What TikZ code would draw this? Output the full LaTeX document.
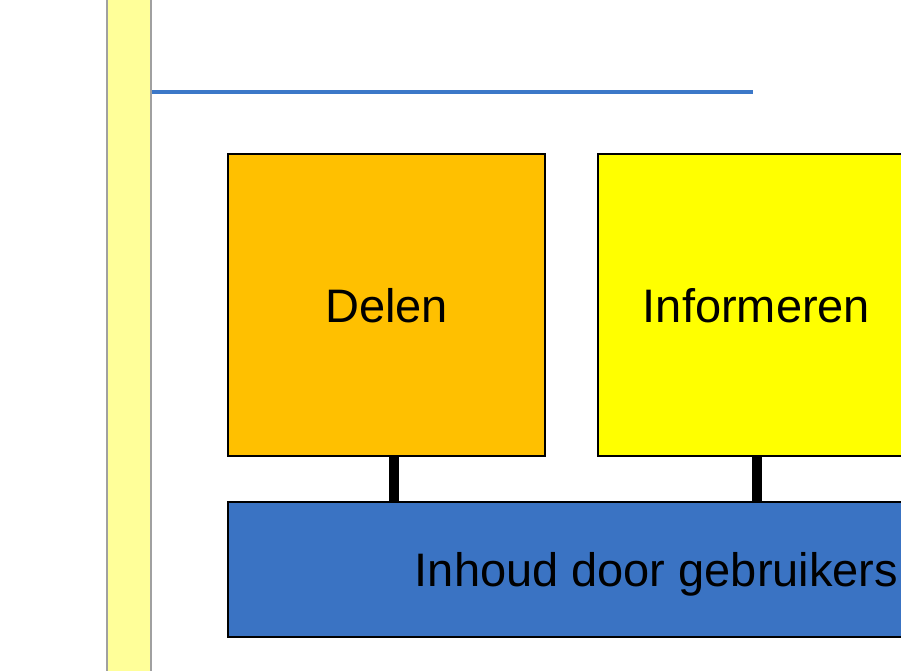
\documentclass[tikz,border=0pt]{standalone}
\usepackage{fontspec}
\setmainfont{Liberation Sans}
\definecolor{stripfill}{HTML}{FFFF99}
\definecolor{stripedge}{HTML}{A0A0A0}
\definecolor{rulecol}{HTML}{3C78C8}
\definecolor{orangefill}{HTML}{FFC000}
\definecolor{yellowfill}{HTML}{FFFF00}
\definecolor{bluefill}{HTML}{3A73C3}
\tikzset{
  block/.style={draw=black, line width=1.3pt, inner sep=0pt, font=\fontsize{47}{56}\selectfont,
    text height=34pt, text depth=0pt},
  link/.style={line width=10pt, draw=black}
}
\begin{document}
\begin{tikzpicture}[x=1pt,y=-1pt]
\useasboundingbox (0,0) rectangle (901,670);
\clip (0,0) rectangle (901,670);
\fill[white] (0,0) rectangle (901,670);
% left strip
\filldraw[fill=stripfill, draw=stripedge, line width=2pt] (107,-5) rectangle (151,680);
% top rule
\draw[rulecol, line width=4.5pt] (152,92) -- (753,92);
% boxes
\node[block, fill=orangefill, minimum width=317pt, minimum height=302pt] (delen) at (386.5,305) {Delen};
\node[block, fill=yellowfill, minimum width=317pt, minimum height=302pt] (info) at (756.5,305) {Informeren};
\node[block, fill=bluefill, minimum width=857pt, minimum height=135pt] (inhoud) at (656.5,569.5) {Inhoud door gebruikers};
% connectors
\draw[link] ([xshift=7.5pt]delen.south) -- ([xshift=7.5pt]delen.south |- inhoud.north);
\draw[link] (info.south) -- (info.south |- inhoud.north);
\end{tikzpicture}
\end{document}
